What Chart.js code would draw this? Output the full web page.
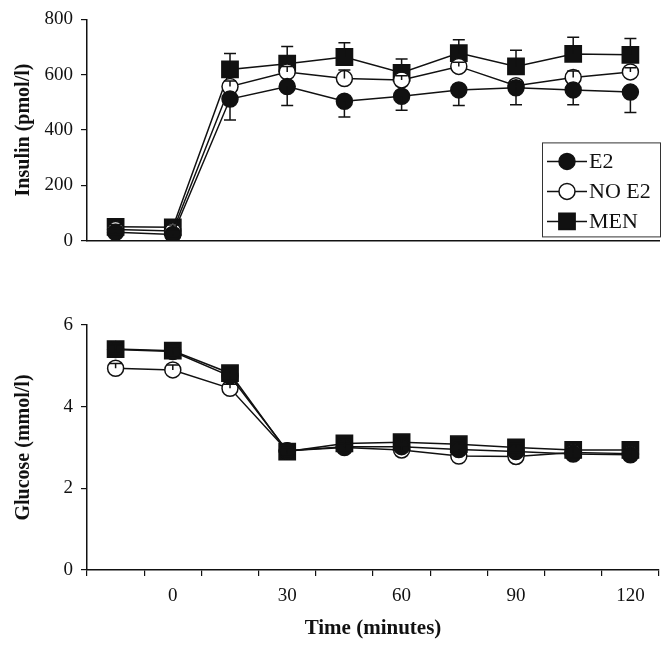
<!DOCTYPE html>
<html>
<head>
<meta charset="utf-8">
<script src="https://cdn.jsdelivr.net/npm/chart.js@4.4.1/dist/chart.umd.min.js"></script>
<style>
  body { margin: 0; background: #fff; }
  canvas { position: absolute; left: 0; display: block; }
</style>
</head>
<body>
<canvas id="insulin" width="672" height="260" style="top:0"></canvas>
<canvas id="glucose" width="672" height="388" style="top:260px"></canvas>
<script>
// sampling times (minutes), every second one gets a label
const times = [-15, 0, 15, 30, 45, 60, 75, 90, 105, 120];
const seriesNames = ['E2', 'NO E2', 'MEN'];

// insulin, pmol/l
const insulinE2 = [30, 22, 512, 557, 504, 522, 545, 553, 545, 537];
const insulinNoE2 = [40, 35, 557, 610, 586, 581, 630, 560, 590, 610];
const insulinMen = [50, 48, 619, 640, 664, 607, 678, 630, 675, 672];
const insulinE2Err = [8, 8, 76, 68, 57, 51, 56, 62, 54, 74];
const insulinNoE2Err = [5, 5, 20, 20, 31, 15, 15, 15, 23, 15];
const insulinMenErr = [8, 8, 58, 62, 52, 50, 48, 58, 60, 59];

// glucose, mmol/l
const glucoseE2 = [5.40, 5.35, 4.75, 2.92, 3.02, 3.02, 2.95, 2.90, 2.84, 2.82];
const glucoseNoE2 = [4.94, 4.90, 4.45, 2.92, 3.00, 2.94, 2.79, 2.78, 2.88, 2.85];
const glucoseMen = [5.41, 5.37, 4.82, 2.90, 3.10, 3.13, 3.08, 3.00, 2.94, 2.94];
const glucoseE2Err = [0.1, 0.1, 0.1, 0.1, 0.1, 0.1, 0.1, 0.1, 0.1, 0.1];
const glucoseNoE2Err = [0.12, 0.12, 0.1, 0.1, 0.1, 0.1, 0.1, 0.1, 0.1, 0.1];
const glucoseMenErr = [0.1, 0.1, 0.1, 0.1, 0.1, 0.1, 0.1, 0.1, 0.1, 0.1];

const ink = '#111';
const serif = '"Liberation Serif", "Times New Roman", serif';

function makeDatasets(e2, noE2, men, e2Err, noE2Err, menErr) {
  const base = {
    borderColor: ink,
    borderWidth: 1.5,
    pointBorderColor: ink,
    pointBorderWidth: 1.5,
    pointHoverRadius: 8
  };
  return [
    { ...base, label: seriesNames[0], data: e2, errors: e2Err, errorDir: -1,
      pointStyle: 'circle', pointRadius: 8, pointBackgroundColor: ink },
    { ...base, label: seriesNames[1], data: noE2, errors: noE2Err, errorDir: 1,
      pointStyle: 'circle', pointRadius: 8, pointBackgroundColor: '#fff' },
    { ...base, label: seriesNames[2], data: men, errors: menErr, errorDir: 1,
      pointStyle: 'rect', pointRadius: 11.5, pointBackgroundColor: ink }
  ];
}

// whisker on one side of each point
const errorBars = {
  id: 'errorBars',
  afterDatasetsDraw(chart) {
    const { ctx } = chart;
    const yScale = chart.scales.y;
    chart.data.datasets.forEach((ds, i) => {
      if (!ds.errors) return;
      const meta = chart.getDatasetMeta(i);
      ctx.save();
      ctx.strokeStyle = ink;
      ctx.lineWidth = 1.5;
      meta.data.forEach((pt, j) => {
        const end = yScale.getPixelForValue(ds.data[j] + ds.errorDir * ds.errors[j]);
        ctx.beginPath();
        ctx.moveTo(pt.x, pt.y);
        ctx.lineTo(pt.x, end);
        ctx.moveTo(pt.x - 6, end);
        ctx.lineTo(pt.x + 6, end);
        ctx.stroke();
      });
      ctx.restore();
    });
  }
};

// boxed legend inside the plot, line through marker
const boxLegend = {
  id: 'boxLegend',
  afterDraw(chart, args, opts) {
    if (!opts.show) return;
    const { ctx, chartArea } = chart;
    const w = 118, h = 94;
    const left = chartArea.right - w + 1, top = chartArea.top + 123;
    ctx.save();
    ctx.fillStyle = '#fff';
    ctx.fillRect(left, top, w, h);
    ctx.strokeStyle = '#333';
    ctx.lineWidth = 1;
    ctx.strokeRect(left + 0.5, top + 0.5, w, h);
    chart.data.datasets.forEach((ds, i) => {
      const cy = top + 19 + i * 30;
      const cx = left + 25;
      ctx.strokeStyle = ds.borderColor;
      ctx.lineWidth = ds.borderWidth;
      ctx.beginPath();
      ctx.moveTo(left + 5, cy);
      ctx.lineTo(left + 45, cy);
      ctx.stroke();
      ctx.fillStyle = ds.pointBackgroundColor;
      ctx.lineWidth = ds.pointBorderWidth;
      ctx.beginPath();
      if (ds.pointStyle === 'rect') {
        const s = ds.pointRadius * Math.SQRT1_2;
        ctx.rect(cx - s, cy - s, 2 * s, 2 * s);
      } else {
        ctx.arc(cx, cy, ds.pointRadius, 0, Math.PI * 2);
      }
      ctx.fill();
      ctx.stroke();
      ctx.fillStyle = ink;
      ctx.font = '22px ' + serif;
      ctx.textBaseline = 'middle';
      ctx.fillText(ds.label, left + 47, cy + 1);
    });
    ctx.restore();
  }
};

function yAxis(min, max, step, title) {
  return {
    min: min, max: max,
    ticks: { stepSize: step, color: ink, padding: 8, font: { family: serif, size: 19 } },
    grid: { drawOnChartArea: false, tickLength: 6, color: ink, lineWidth: 1.2 },
    border: { color: ink, width: 1.5 },
    title: { display: true, text: title, color: ink, padding: { top: 12 },
             font: { family: serif, size: 20, weight: 'bold' } },
    afterFit(scale) { scale.width = 87; }
  };
}

const common = {
  responsive: false,
  animation: false,
  plugins: { legend: { display: false }, tooltip: { enabled: false } }
};

new Chart(document.getElementById('insulin'), {
  type: 'line',
  data: {
    labels: times,
    datasets: makeDatasets(insulinE2, insulinNoE2, insulinMen,
                           insulinE2Err, insulinNoE2Err, insulinMenErr)
  },
  options: {
    ...common,
    layout: { padding: { top: 14, right: 8, bottom: 19, left: 0 } },
    plugins: { ...common.plugins, boxLegend: { show: true } },
    scales: {
      x: {
        type: 'category', offset: true,
        grid: { display: false },
        ticks: { display: false },
        border: { color: ink, width: 1.5 },
        afterFit(scale) { scale.height = 0; }
      },
      y: yAxis(0, 800, 200, 'Insulin (pmol/l)')
    }
  },
  plugins: [errorBars, boxLegend]
});

new Chart(document.getElementById('glucose'), {
  type: 'line',
  data: {
    labels: times,
    datasets: makeDatasets(glucoseE2, glucoseNoE2, glucoseMen,
                           glucoseE2Err, glucoseNoE2Err, glucoseMenErr)
  },
  options: {
    ...common,
    layout: { padding: { top: 65, right: 8, bottom: 0, left: 0 } },
    plugins: { ...common.plugins, boxLegend: { show: false } },
    scales: {
      x: {
        type: 'category', offset: true,
        grid: { offset: true, drawOnChartArea: false, tickLength: 6, color: ink, lineWidth: 1.2 },
        border: { color: ink, width: 1.5 },
        ticks: {
          autoSkip: false, maxRotation: 0, color: ink, padding: 9,
          font: { family: serif, size: 19 },
          callback(value) {
            const t = times[value];
            return t % 30 === 0 ? String(t) : '';
          }
        },
        title: { display: true, text: 'Time (minutes)', color: ink, padding: { bottom: 7 },
                 font: { family: serif, size: 21, weight: 'bold' } },
        afterFit(scale) { scale.height = 78; }
      },
      y: yAxis(0, 6, 2, 'Glucose (mmol/l)')
    }
  },
  plugins: [errorBars, boxLegend]
});
</script>
</body>
</html>
